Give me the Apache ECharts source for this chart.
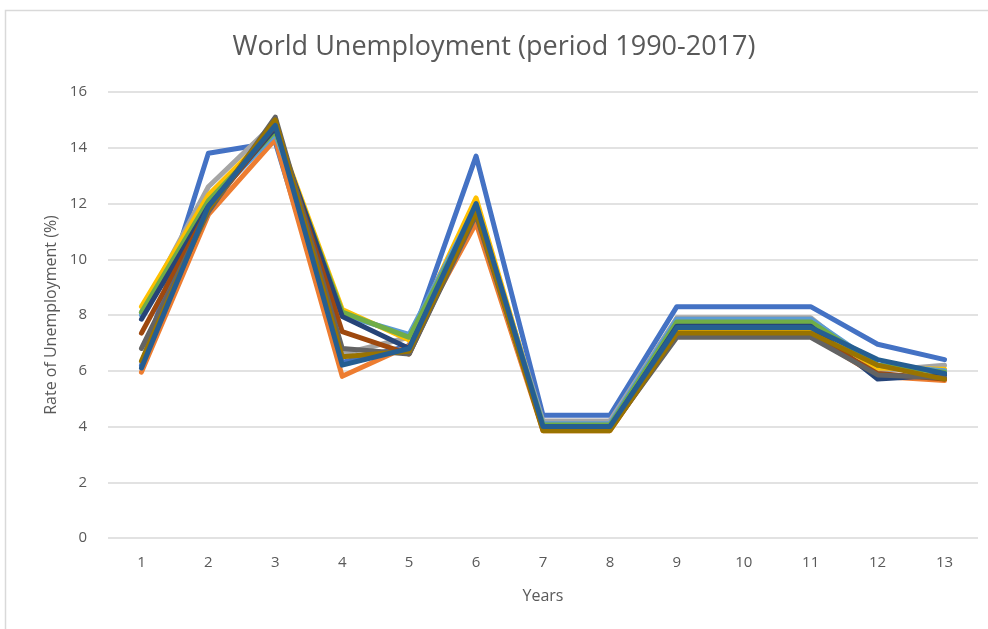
<!DOCTYPE html>
<html>
<head>
<meta charset="utf-8">
<script src="https://cdn.jsdelivr.net/npm/echarts@6/dist/echarts.min.js"></script>
<style>
  html, body { margin: 0; padding: 0; background: #fff; }
  #chart { width: 988px; height: 629px; }
</style>
</head>
<body>
<div id="chart"></div>
<script>
// categories (years 1..13)
const years = ['1', '2', '3', '4', '5', '6', '7', '8', '9', '10', '11', '12', '13'];
const yTicks = [0, 2, 4, 6, 8, 10, 12, 14, 16];

// series values
const s1  = [6.2, 13.8, 14.2, 6.3, 6.9, 13.7, 4.4, 4.4, 8.3, 8.3, 8.3, 6.95, 6.4];
const s2  = [5.95, 11.6, 14.3, 5.8, 6.9, 11.3, 3.85, 3.85, 7.3, 7.3, 7.3, 5.8, 5.65];
const s3  = [8.1, 12.6, 14.9, 6.6, 7.2, 11.9, 4.2, 4.2, 7.9, 7.9, 7.9, 6.0, 6.2];
const s4  = [8.3, 12.3, 14.7, 8.2, 7.1, 12.2, 4.0, 4.0, 7.5, 7.5, 7.5, 6.1, 6.05];
const s5  = [8.0, 12.0, 14.5, 8.0, 7.3, 11.9, 4.1, 4.1, 7.85, 7.85, 7.85, 6.2, 6.0];
const s6  = [8.1, 12.1, 14.6, 8.1, 7.2, 11.8, 4.05, 4.05, 7.75, 7.75, 7.75, 6.2, 5.95];
const s7  = [7.85, 11.9, 14.7, 7.95, 6.8, 11.8, 3.95, 3.95, 7.6, 7.6, 7.6, 5.7, 5.85];
const s8  = [7.35, 11.8, 14.8, 7.4, 6.6, 11.7, 3.9, 3.9, 7.3, 7.3, 7.3, 5.9, 5.7];
const s9  = [6.8, 11.7, 15.1, 6.8, 6.6, 11.6, 3.9, 3.9, 7.2, 7.2, 7.2, 5.85, 5.75];
const s10 = [6.35, 11.8, 15.0, 6.5, 6.7, 11.7, 3.85, 3.85, 7.35, 7.35, 7.35, 6.2, 5.7];
const s11 = [6.1, 11.9, 14.8, 6.2, 6.8, 12.0, 4.0, 4.0, 7.55, 7.55, 7.55, 6.4, 5.9];

const seriesData = [s1, s2, s3, s4, s5, s6, s7, s8, s9, s10, s11];
const colors = ['#4472C4', '#ED7D31', '#A5A5A5', '#FFC000', '#5B9BD5', '#70AD47',
                '#264478', '#9E480E', '#636363', '#997300', '#255E91'];

const chart = echarts.init(document.getElementById('chart'));
const font = '"Open Sans", Lato, sans-serif';

const option = {
  animation: false,
  color: colors,
  title: {
    text: 'World Unemployment (period 1990-2017)',
    left: 'center',
    top: 29,
    textStyle: { color: '#595959', fontSize: 27, fontWeight: 'normal', fontFamily: font }
  },
  graphic: [{
    type: 'rect',
    shape: { x: 5.5, y: 10.5, width: 1000, height: 700 },
    style: { fill: 'none', stroke: '#d9d9d9', lineWidth: 1.5 },
    silent: true
  }],
  grid: { left: 108, right: 10, top: 92, bottom: 91 },
  xAxis: {
    type: 'category',
    data: years,
    name: 'Years',
    nameLocation: 'middle',
    nameGap: 50,
    nameTextStyle: { color: '#595959', fontSize: 16, fontFamily: font },
    axisLine: { show: false },
    axisTick: { show: false },
    axisLabel: { color: '#595959', fontSize: 15, margin: 17, fontFamily: font }
  },
  yAxis: {
    type: 'value',
    min: yTicks[0],
    max: yTicks[yTicks.length - 1],
    interval: 2,
    name: 'Rate of Unemployment (%)',
    nameLocation: 'middle',
    nameGap: 48,
    nameTextStyle: { color: '#595959', fontSize: 16, fontFamily: font },
    axisLine: { show: false },
    axisTick: { show: false },
    axisLabel: { color: '#595959', fontSize: 15, margin: 21, fontFamily: font },
    splitLine: { lineStyle: { color: '#d9d9d9', width: 1.5 } }
  },
  series: seriesData.map((d, i) => ({
    name: 'Series' + (i + 1),
    type: 'line',
    data: d,
    symbol: 'none',
    lineStyle: { width: 5, cap: 'round', join: 'round' }
  }))
};

chart.setOption(option);
</script>
</body>
</html>
